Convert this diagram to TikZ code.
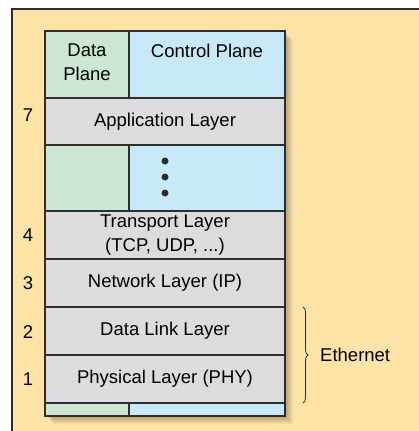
\documentclass[tikz,border=0pt]{standalone}
\usepackage{fontspec}
\setmainfont{Liberation Sans}
\usetikzlibrary{positioning,decorations.pathreplacing}
\definecolor{bgyellow}{HTML}{FDE3A6}
\definecolor{planegreen}{HTML}{CDE6D4}
\definecolor{planeblue}{HTML}{C6E8F7}
\definecolor{layergray}{HTML}{DCDCDE}
\definecolor{edge}{HTML}{2E2E30}

\begin{document}
\begin{tikzpicture}[x=1pt,y=-1pt,font=\fontsize{18.5}{23.5}\selectfont]
\tikzstyle{every node}+=[inner sep=0pt]
\tikzstyle{cell}=[draw=edge, line width=1.5pt, outer sep=0pt, minimum width=240pt, minimum height=48pt, align=center]
\tikzstyle{layer}=[cell, fill=layergray]
\tikzstyle{dcell}=[cell, fill=planegreen, minimum width=84pt]
\tikzstyle{ccell}=[cell, fill=planeblue, minimum width=156pt]
\useasboundingbox (0,0) rectangle (419,431);
\clip (0,0) rectangle (419,431);
% frame
\draw [edge, line width=2pt, fill=bgyellow] (12,9) rectangle (440,450);
% shadow
\foreach \s in {1,...,8}
  \fill [black, opacity=0.04] (45+\s,31+\s) rectangle (285+\s,416+\s);
% planes on top
\node [dcell, minimum height=67pt, anchor=north west] (dtop) at (45,31) {};
\node [ccell, minimum height=67pt, right=0pt of dtop] (ctop) {};
\node [below=13pt of dtop.north, align=center] (dtxt) {Data\\Plane};
\node [below=13pt of ctop.north] (ctxt) {Control Plane};
% layers
\node [layer, minimum height=47pt, below=0pt of dtop.south west, anchor=north west] (app) {Application Layer};
\node [dcell, minimum height=66pt, below=0pt of app.south west, anchor=north west] (dmid) {};
\node [ccell, minimum height=66pt, right=0pt of dmid] (cmid) {};
\foreach \y in {161,177,193}
  \fill [edge] (165,\y) circle (3.5pt);
\node [layer, below=0pt of dmid.south west, anchor=north west] (transport) {Transport Layer\\(TCP, UDP, ...)};
\node [layer, below=0pt of transport] (network) {Network Layer (IP)};
\node [layer, below=0pt of network] (datalink) {Data Link Layer};
\node [layer, below=0pt of datalink] (phy) {Physical Layer (PHY)};
\node [dcell, minimum height=13pt, below=0pt of phy.south west, anchor=north west] (dbot) {};
\node [ccell, minimum height=13pt, right=0pt of dbot] (cbot) {};
% layer numbers
\node (n7) at (28,115) {7};
\node (n4) at (28,235) {4};
\node (n3) at (28,283) {3};
\node (n2) at (28,332) {2};
\node (n1) at (28,379) {1};
% ethernet brace
\coordinate [right=18pt of datalink.north east] (btop);
\coordinate [right=18pt of phy.south east] (bbot);
\draw [edge, line width=0.8pt, decorate, decoration={brace, amplitude=5pt}] (btop) -- (bbot);
\path (btop) -- (bbot) coordinate [midway] (bmid);
\node [right=17pt of bmid] (eth) {Ethernet};
\end{tikzpicture}
\end{document}
